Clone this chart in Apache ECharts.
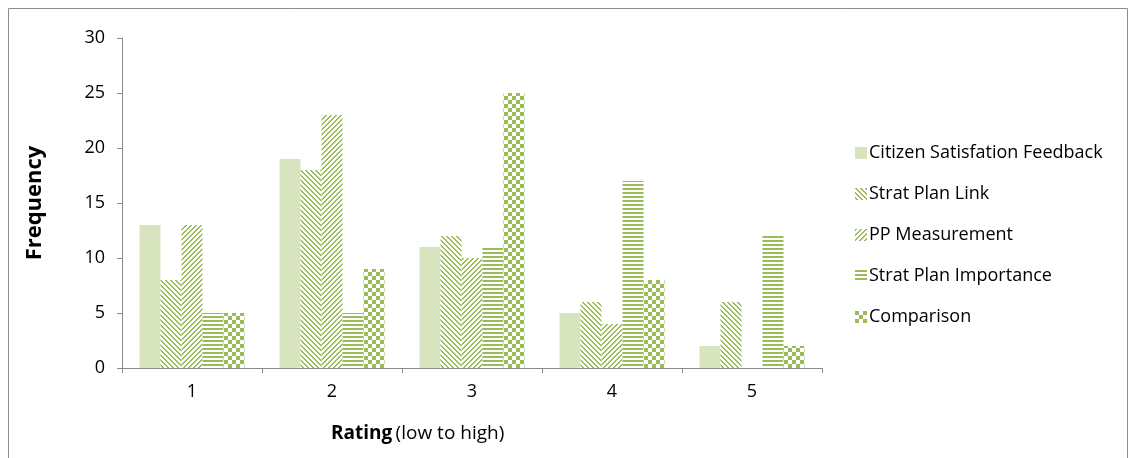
<!DOCTYPE html>
<html>
<head>
<meta charset="utf-8">
<script src="https://cdn.jsdelivr.net/npm/echarts@6/dist/echarts.min.js"></script>
<style>
  html, body { margin: 0; padding: 0; background: #fff; }
  #chart { width: 1136px; height: 458px; }
</style>
</head>
<body>
<div id="chart"></div>
<script>
// Rating categories and frequency counts per survey item
const ratings = ['1', '2', '3', '4', '5'];
const citizenFeedback = [13, 19, 11, 5, 2];
const stratPlanLink = [8, 18, 12, 6, 6];
const ppMeasurement = [13, 23, 10, 4, 0];
const stratPlanImportance = [5, 5, 11, 17, 12];
const comparison = [5, 9, 25, 8, 2];
const seriesNames = ['Citizen Satisfation Feedback', 'Strat Plan Link', 'PP Measurement', 'Strat Plan Importance', 'Comparison'];

const GREEN = '#9bbb59';
const LIGHT = '#d7e4bd';

// Build a small repeating fill tile from a pixel predicate
function tile(size, on) {
  const c = document.createElement('canvas');
  c.width = size; c.height = size;
  const ctx = c.getContext('2d');
  ctx.fillStyle = '#ffffff';
  ctx.fillRect(0, 0, size, size);
  ctx.fillStyle = GREEN;
  for (let y = 0; y < size; y++) {
    for (let x = 0; x < size; x++) {
      if (on(x, y)) ctx.fillRect(x, y, 1, 1);
    }
  }
  return { image: c, repeat: 'repeat' };
}

const downDiag = tile(5, (x, y) => ((x - y) % 5 + 5) % 5 < 2);
const upDiag = tile(5, (x, y) => (x + y) % 5 < 2);
const horiz = tile(4, (x, y) => y % 4 < 2);
const checker = tile(8, (x, y) => ((Math.floor(x / 4) + Math.floor(y / 4)) % 2) === 0);

const fills = [LIGHT, downDiag, upDiag, horiz, checker];
const values = [citizenFeedback, stratPlanLink, ppMeasurement, stratPlanImportance, comparison];

const chart = echarts.init(document.getElementById('chart'), null, { renderer: 'canvas' });

const font = 'Open Sans, Noto Sans, sans-serif';

chart.setOption({
  animation: false,
  textStyle: { fontFamily: font },
  graphic: [{
    type: 'rect',
    shape: { x: 8.5, y: 8.5, width: 1119, height: 470 },
    style: { fill: 'none', stroke: '#8c8c8c', lineWidth: 1 },
    silent: true
  }, {
    // x-axis title: bold "Rating" followed by the plain range note
    type: 'text',
    left: 331,
    top: 424,
    style: {
      text: '{b|Rating} {n|(low to high)}',
      rich: {
        b: { fontFamily: font, fontSize: 19, fontWeight: 'bold', fill: '#000' },
        n: { fontFamily: font, fontSize: 19, fill: '#000' }
      }
    },
    silent: true
  }],
  grid: { left: 122, right: 314, top: 38, bottom: 90 },
  legend: {
    orient: 'vertical',
    left: 850,
    top: 139,
    itemWidth: 12,
    itemHeight: 12,
    itemGap: 23,
    icon: 'rect',
    textStyle: { fontFamily: font, fontSize: 18, color: '#000', padding: [0, 0, 0, -3] },
    data: seriesNames
  },
  xAxis: {
    type: 'category',
    data: ratings,
    axisLine: { lineStyle: { color: '#8c8c8c', width: 1 } },
    axisTick: { show: true, length: 5, lineStyle: { color: '#8c8c8c' } },
    axisLabel: { fontFamily: font, fontSize: 18, color: '#000', margin: 15 }
  },
  yAxis: {
    type: 'value',
    min: 0,
    max: 30,
    interval: 5,
    name: 'Frequency',
    nameLocation: 'middle',
    nameGap: 76,
    nameRotate: 90,
    nameTextStyle: { fontFamily: font, fontSize: 22, fontWeight: 'bold', color: '#000' },
    axisLine: { show: true, lineStyle: { color: '#8c8c8c', width: 1 } },
    axisTick: { show: true, length: 5, lineStyle: { color: '#8c8c8c' } },
    splitLine: { show: false },
    axisLabel: { fontFamily: font, fontSize: 18, color: '#000', margin: 17 }
  },
  series: seriesNames.map((name, i) => ({
    name,
    type: 'bar',
    data: values[i],
    barGap: '0%',
    barCategoryGap: '25%',
    itemStyle: { color: fills[i] }
  }))
});
</script>
</body>
</html>
